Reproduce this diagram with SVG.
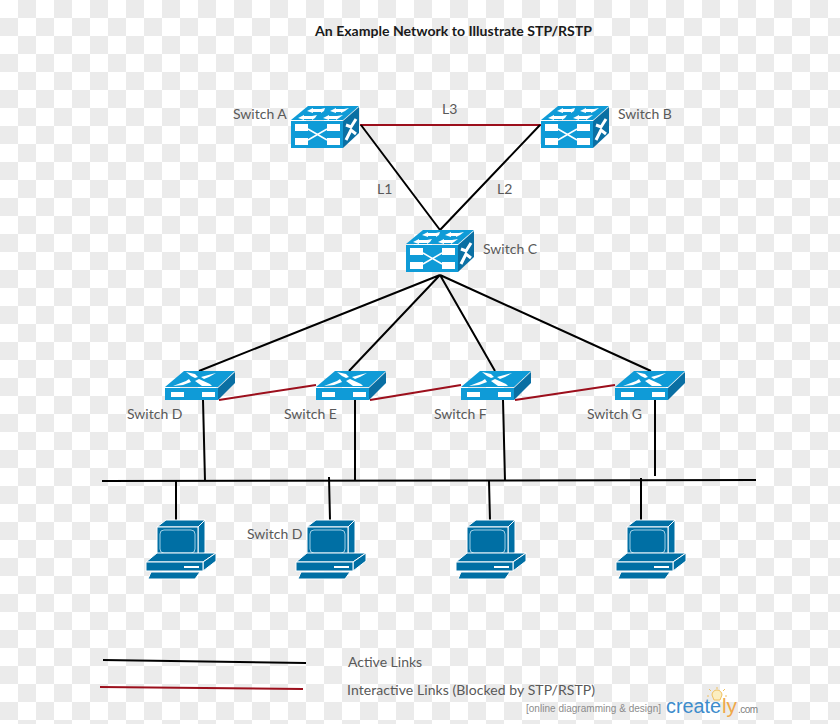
<svg xmlns="http://www.w3.org/2000/svg" xmlns:xlink="http://www.w3.org/1999/xlink" width="840" height="724" viewBox="0 0 840 724">
<style>
text{font-family:Lato,"Open Sans","Liberation Sans",sans-serif}
.lbl{font-size:14px;fill:#595959}
.k{stroke:#000;stroke-width:2;fill:none}
.r{stroke:#9c0f1c;stroke-width:2;fill:none}
.b{fill:#0f9bd7}
.w{fill:#fff}
.pc{fill:#006fa4;stroke:#fff;stroke-width:1}
</style>
<defs>
<pattern id="chk" width="36" height="36" patternUnits="userSpaceOnUse">
<rect width="36" height="36" fill="#fff"/>
<rect x="18" width="18" height="18" fill="#ebebeb"/>
<rect y="18" width="18" height="18" fill="#ebebeb"/>
</pattern>
<g id="big">
<path class="b" d="M0 14L17 0H68L52 14Z"/>
<path class="b" d="M0 15H52V42H0Z"/>
<path fill="#0a6fa3" d="M52 15L68 1V27L52 42Z"/>
<path class="w" d="M4 18H17V25H4ZM36 18H49V25H36ZM4 32H17V39H4ZM36 32H49V39H36Z"/>
<path d="M17 23L36 34M17 34L36 23" stroke="#fff" stroke-width="1.5" fill="none"/>
<path class="w" d="M16 5L22 2V3H30L34 2L33 5L30 7V6H22V7ZM39 5L45 2V3H53L58 2L54 5L50 7V6H45V7ZM7 12L13 9V10H21L26 9L24 12L21 14V13H13V14ZM32 12L38 9V10H46L52 9L48 12L45 14V13H38V14Z"/>
<path d="M55 19L60 21L65 13M55 34L60 24L65 28" stroke="#fff" stroke-width="3" fill="none"/>
</g>
<g id="small">
<path class="b" d="M0 16L19 0H70L53 16Z"/>
<path class="b" d="M0 17H53V29H0Z"/>
<path fill="#0a6fa3" d="M53 17L70 1V12L53 29Z"/>
<path class="w" d="M6 21H19V26H6ZM37 21H50V26H37Z"/>
<path class="w" d="M8 15L21 10L24 8L26 11L18 14ZM21 1L30 3L33 6L30 7L26 5ZM30 10L34 8L45 13L47 15H37ZM36 6L47 3L51 2L44 6L39 8Z"/>
</g>
<g id="pc">
<path class="pc" d="M11 7L20 0H59L52 7Z"/>
<path class="pc" d="M52 7L59 0V33L52 35Z"/>
<path class="pc" d="M11 7H52V35H11Z"/>
<rect x="14" y="10" width="35" height="23" rx="4" fill="#006fa4" stroke="#9fd0e6" stroke-width="1"/>
<path class="pc" d="M0 42L11 33H70L57 42Z"/>
<path class="pc" d="M57 42L70 33V41L57 51Z"/>
<path class="pc" d="M0 42H57V51H0Z"/>
<rect x="38" y="46" width="15" height="2" fill="#fff"/>
<path class="pc" d="M5 52H54L49 59H2Z"/>
</g>
</defs>
<rect width="840" height="724" fill="url(#chk)"/>
<text id="title" x="315" y="36" font-size="14" font-weight="700" fill="#1a1a1a" textLength="277" lengthAdjust="spacingAndGlyphs">An Example Network to Illustrate STP/RSTP</text>
<g id="connectors">
<path class="r" d="M360 125H541"/>
<path class="k" d="M361 125L440 230M540 125L440 230M440 275L199 371M440 275L349 371M440 275L495 371M440 275L651 371"/>
<path class="r" d="M219 400L316 385M370 400L461 385M515 400L615 385"/>
<path class="k" d="M203 400L205 481M355 400V481M503 400L505 481M655 400V476"/>
<path class="k" d="M102 481L756 480"/>
<path class="k" d="M176 481V520M329 477L330 520M489 481L490 520M641 478V520"/>
<path class="k" d="M103 660L306 663"/>
<path class="r" d="M100 687L303 689"/>
</g>
<g id="switch-a"><use xlink:href="#big" href="#big" x="291" y="106"/><text class="lbl" x="233" y="119">Switch A</text></g>
<g id="switch-b"><use xlink:href="#big" href="#big" x="541" y="106"/><text class="lbl" x="618" y="119">Switch B</text></g>
<g id="switch-c"><use xlink:href="#big" href="#big" x="406" y="230"/><text class="lbl" x="483" y="254">Switch C</text></g>
<g id="switch-d"><use xlink:href="#small" href="#small" x="165" y="371"/><text class="lbl" x="127" y="419">Switch D</text></g>
<g id="switch-e"><use xlink:href="#small" href="#small" x="316" y="371"/><text class="lbl" x="284" y="419">Switch E</text></g>
<g id="switch-f"><use xlink:href="#small" href="#small" x="461" y="371"/><text class="lbl" x="434" y="419">Switch F</text></g>
<g id="switch-g"><use xlink:href="#small" href="#small" x="615" y="371"/><text class="lbl" x="587" y="419">Switch G</text></g>
<g id="pc-1"><use xlink:href="#pc" href="#pc" x="146" y="520"/></g>
<g id="pc-2"><use xlink:href="#pc" href="#pc" x="296" y="520"/><text class="lbl" x="247" y="539">Switch D</text></g>
<g id="pc-3"><use xlink:href="#pc" href="#pc" x="456" y="520"/></g>
<g id="pc-4"><use xlink:href="#pc" href="#pc" x="616" y="520"/></g>
<g id="link-labels">
<text class="lbl" x="442" y="114">L3</text>
<text class="lbl" x="377" y="194">L1</text>
<text class="lbl" x="497" y="194">L2</text>
</g>
<g id="legend">
<text class="lbl" x="348" y="667">Active Links</text>
<text class="lbl" x="347" y="695" textLength="248">Interactive Links (Blocked by STP/RSTP)</text>
</g>
<g id="logo">
<path d="M714 700H720L722 695A5 5 0 1 0 712 695Z" fill="#fbeec0" stroke="#f0c060" stroke-width="1"/>
<path d="M717 687V689M709 689L711 691M725 689L723 691M707 696H709M725 696H727" stroke="#f0c060" stroke-width="1"/>
<text x="526" y="712" font-size="10" fill="#8c8c8c" style="font-family:'Liberation Sans',sans-serif" textLength="135">[online diagramming &amp; design]</text>
<text x="666" y="713" font-size="20" fill="#3d8ccc" style="font-family:'Liberation Sans',sans-serif" textLength="55" lengthAdjust="spacingAndGlyphs">create</text>
<text x="722" y="713" font-size="20" fill="#f0a848" style="font-family:'Liberation Sans',sans-serif" textLength="15" lengthAdjust="spacingAndGlyphs">ly</text>
<text x="738" y="713" font-size="10" fill="#808080" style="font-family:'Liberation Sans',sans-serif" textLength="20">.com</text>
</g>
</svg>
